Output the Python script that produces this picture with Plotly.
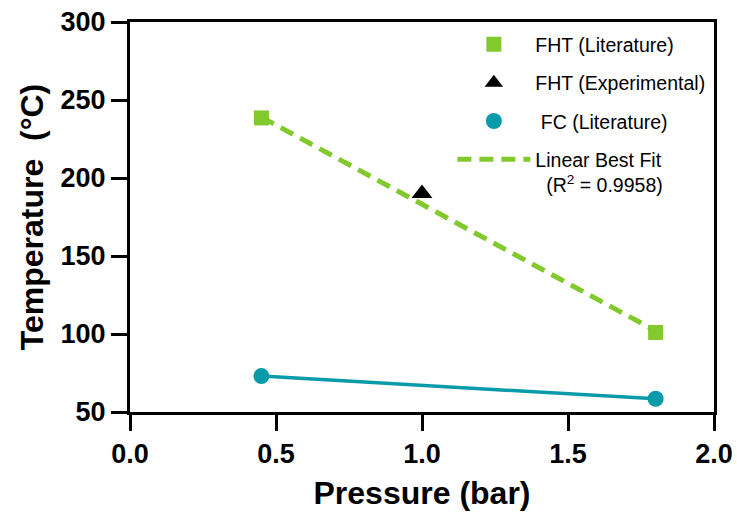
import plotly.graph_objects as go

# Data
fht_lit_x = [0.45, 1.8]
fht_lit_y = [238.5, 101]
fht_exp_x = [1.0]
fht_exp_y = [190]
fc_lit_x = [0.45, 1.8]
fc_lit_y = [73, 58.5]
fit_x = [0.45, 1.8]
fit_y = [239, 102]
x_ticks = [0.0, 0.5, 1.0, 1.5, 2.0]
x_tick_labels = ["0.0", "0.5", "1.0", "1.5", "2.0"]
y_ticks = [50, 100, 150, 200, 250, 300]

GREEN = "#82C92D"
TEAL = "#0A9BAA"
FONT = "Liberation Sans, Arial, Helvetica, sans-serif"

fig = go.Figure()

fig.add_trace(go.Scatter(
    x=fit_x, y=fit_y, mode="lines",
    line=dict(color=GREEN, width=5, dash="14px,8px"),
    name="Linear Best Fit<br>&nbsp;&nbsp;(R<sup>2</sup> = 0.9958)",
    legendrank=4, legendgroup="d",
))
fig.add_trace(go.Scatter(
    x=fc_lit_x, y=fc_lit_y, mode="lines",
    line=dict(color=TEAL, width=3.5),
    showlegend=False, hoverinfo="skip",
))
fig.add_trace(go.Scatter(
    x=fc_lit_x, y=fc_lit_y, mode="markers",
    marker=dict(symbol="circle", size=16, color=TEAL),
    name="&nbsp;FC (Literature)", legendrank=3, legendgroup="c",
))
fig.add_trace(go.Scatter(
    x=fht_lit_x, y=fht_lit_y, mode="markers",
    marker=dict(symbol="square", size=15, color=GREEN),
    name="FHT (Literature)", legendrank=1, legendgroup="a",
))
fig.add_trace(go.Scatter(
    x=fht_exp_x, y=fht_exp_y, mode="markers",
    marker=dict(symbol="triangle-up", size=18, color="black"),
    name="FHT (Experimental)", legendrank=2, legendgroup="b",
))

fig.update_layout(
    width=737, height=512,
    margin=dict(l=130, r=23, t=22, b=100, autoexpand=False),
    paper_bgcolor="white", plot_bgcolor="white",
    font=dict(family=FONT, color="black"),
    legend=dict(
        x=0.552, y=0.992, xanchor="left", yanchor="top",
        font=dict(family=FONT, size=19.5, color="black"),
        bgcolor="rgba(0,0,0,0)", tracegroupgap=10, valign="top",
        itemwidth=73,
    ),
    xaxis=dict(
        range=[0, 2], tickvals=x_ticks, ticktext=x_tick_labels,
        showgrid=False, zeroline=False, automargin=False,
        showline=True, linecolor="black", linewidth=3, mirror=True,
        ticks="outside", ticklen=16, tickwidth=3, tickcolor="black",
        tickfont=dict(family=FONT, size=27, color="black", weight="bold"),
        title=dict(text="<b>Pressure (bar)</b>", font=dict(family=FONT, size=32, color="black"), standoff=14),
    ),
    yaxis=dict(
        range=[50, 300], tickvals=y_ticks,
        showgrid=False, zeroline=False, automargin=False,
        showline=True, linecolor="black", linewidth=3, mirror=True,
        ticks="outside", ticklen=16, tickwidth=3, tickcolor="black",
        tickfont=dict(family=FONT, size=27, color="black", weight="bold"),
        title=dict(text="<b>Temperature  (°C)</b>", font=dict(family=FONT, size=32, color="black"), standoff=8),
    ),
)

fig.write_html("out.html")
